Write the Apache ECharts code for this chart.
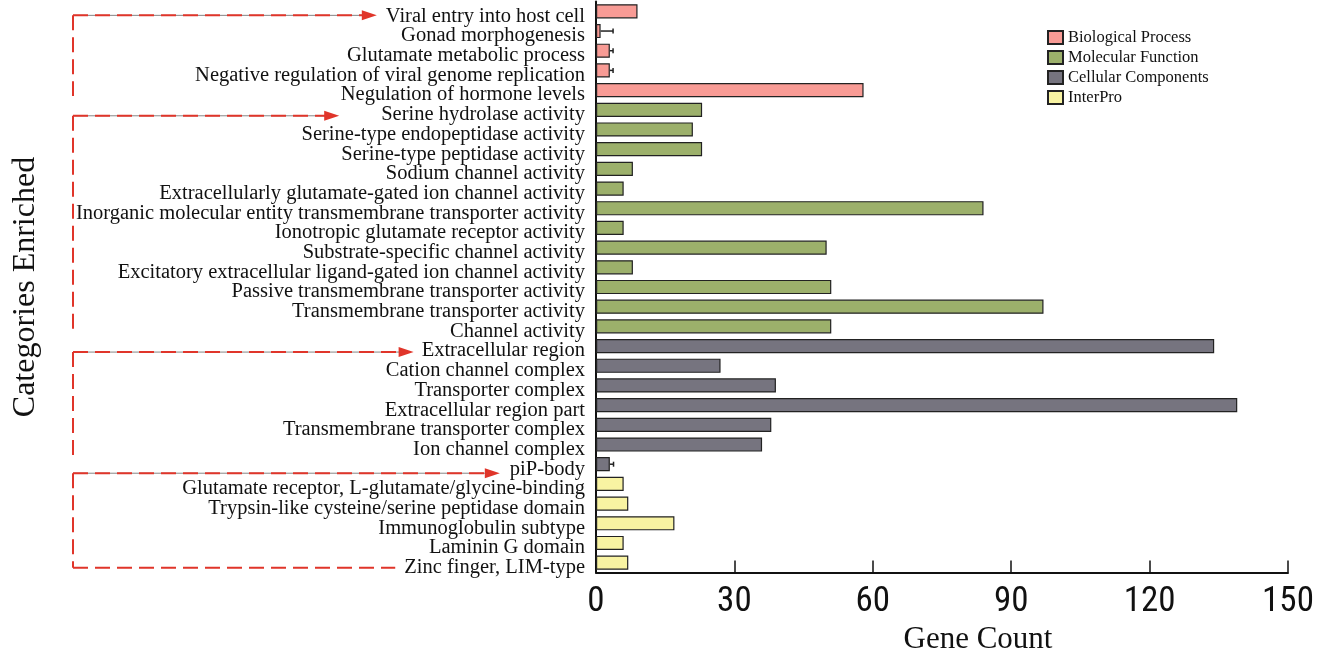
<!DOCTYPE html>
<html>
<head>
<meta charset="utf-8">
<script src="https://cdn.jsdelivr.net/npm/echarts@6/dist/echarts.min.js"></script>
<style>
  html, body { margin: 0; padding: 0; background: #fff; }
  #chart { width: 1332px; height: 654px; }
</style>
</head>
<body>
<div id="chart"></div>
<script>
// categories, top to bottom
const categories = [
  'Viral entry into host cell',
  'Gonad morphogenesis',
  'Glutamate metabolic process',
  'Negative regulation of viral genome replication',
  'Negulation of hormone levels',
  'Serine hydrolase activity',
  'Serine-type endopeptidase activity',
  'Serine-type peptidase activity',
  'Sodium channel activity',
  'Extracellularly glutamate-gated ion channel activity',
  'Inorganic molecular entity transmembrane transporter activity',
  'Ionotropic glutamate receptor activity',
  'Substrate-specific channel activity',
  'Excitatory extracellular ligand-gated ion channel activity',
  'Passive transmembrane transporter activity',
  'Transmembrane transporter activity',
  'Channel activity',
  'Extracellular region',
  'Cation channel complex',
  'Transporter complex',
  'Extracellular region part',
  'Transmembrane transporter complex',
  'Ion channel complex',
  'piP-body',
  'Glutamate receptor, L-glutamate/glycine-binding',
  'Trypsin-like cysteine/serine peptidase domain',
  'Immunoglobulin subtype',
  'Laminin G domain',
  'Zinc finger, LIM-type'
];
const geneCounts = [9, 1, 3, 3, 58, 23, 21, 23, 8, 6, 84, 6, 50, 8, 51, 97, 51,
  134, 27, 39, 139, 38, 36, 3, 6, 7, 17, 6, 7];
const errors = [0, 2.7, 0.7, 0.7, 0, 0, 0, 0, 0, 0, 0, 0, 0, 0, 0, 0, 0,
  0, 0, 0, 0, 0, 0, 0.8, 0, 0, 0, 0, 0];
const groupOf = [0, 0, 0, 0, 0, 1, 1, 1, 1, 1, 1, 1, 1, 1, 1, 1, 1,
  2, 2, 2, 2, 2, 2, 2, 3, 3, 3, 3, 3];
const groupNames = ['Biological Process', 'Molecular Function', 'Cellular Components', 'InterPro'];
const groupColors = ['#F89B95', '#9CB06B', '#76747F', '#F8F3A2'];
const xTicks = [0, 30, 60, 90, 120, 150];
// bracket arrows: first row they point at, last row each bracket spans to
const arrowTo = ['Viral entry into host cell', 'Serine hydrolase activity', 'Extracellular region', 'piP-body'];
const bracketEnd = ['Negulation of hormone levels', 'Channel activity', 'Ion channel complex', 'Zinc finger, LIM-type'];

const labelSize = 20.5;
const labelFont = labelSize + 'px "Liberation Serif", "Times New Roman", serif';
const myChart = echarts.init(document.getElementById('chart'));

let series = groupNames.map((name, g) => ({
  name: name,
  type: 'bar',
  stack: 'all',
  barCategoryGap: '28%',
  itemStyle: { color: groupColors[g], borderColor: '#222', borderWidth: 1.2 },
  data: geneCounts.map((v, i) => groupOf[i] === g ? v : '-')
}));

// small error whiskers
series.push({
  type: 'custom',
  name: 'err',
  silent: true,
  z: 1,
  renderItem: function (params, api) {
    const i = api.value(0);
    const err = errors[i];
    if (!err) return;
    const start = api.coord([geneCounts[i], i]);
    const end = api.coord([geneCounts[i] + err, i]);
    return {
      type: 'group',
      children: [
        { type: 'line', shape: { x1: start[0], y1: start[1], x2: end[0], y2: end[1] }, style: { stroke: '#222', lineWidth: 1.5 } },
        { type: 'line', shape: { x1: end[0], y1: end[1] - 2.5, x2: end[0], y2: end[1] + 2.5 }, style: { stroke: '#222', lineWidth: 1.5 } }
      ]
    };
  },
  encode: { x: 1, y: 0 },
  data: categories.map((c, i) => [i, geneCounts[i]])
});

const option = {
  animation: false,
  grid: { left: 596, right: 44, top: 1.5, bottom: 81.5, containLabel: false, outerBoundsMode: 'none' },
  legend: {
    orient: 'vertical',
    left: 1042,
    top: 24,
    icon: 'rect',
    itemWidth: 15,
    itemHeight: 13,
    itemGap: 3,
    data: groupNames,
    textStyle: { fontFamily: '"Liberation Serif", serif', fontSize: 16.5, color: '#111' }
  },
  xAxis: {
    type: 'value',
    min: 0,
    max: 150,
    interval: 30,
    name: 'Gene Count',
    nameLocation: 'middle',
    nameGap: 50,
    nameTextStyle: { fontFamily: '"Liberation Serif", serif', fontSize: 31, color: '#111', padding: [0, 0, 0, 72] },
    axisLine: { show: true, lineStyle: { color: '#111', width: 2 } },
    axisTick: { show: true, inside: true, length: 12, lineStyle: { color: '#111', width: 1.5 } },
    splitLine: { show: false },
    axisLabel: {
      margin: 12,
      fontFamily: '"Liberation Sans Narrow", "Roboto Condensed", sans-serif',
      fontSize: 35,
      color: '#111',
      formatter: v => xTicks.includes(v) ? String(v) : ''
    }
  },
  yAxis: {
    type: 'category',
    inverse: true,
    data: categories,
    name: 'Categories Enriched',
    nameLocation: 'middle',
    nameGap: 554,
    nameRotate: 90,
    nameTextStyle: { fontFamily: '"Liberation Serif", serif', fontSize: 32, color: '#111' },
    axisLine: { show: true, lineStyle: { color: '#111', width: 2 } },
    axisTick: { show: false },
    axisLabel: {
      interval: 0,
      margin: 11,
      verticalAlign: 'top',
      lineHeight: 10,
      fontFamily: '"Liberation Serif", "Times New Roman", serif',
      fontSize: labelSize,
      color: '#111'
    }
  },
  series: series
};
myChart.setOption(option);

// red dashed brackets on the left, placed from the axis scale and label widths
const ctx = document.createElement('canvas').getContext('2d');
ctx.font = labelFont;
const axisX = myChart.convertToPixel({ xAxisIndex: 0 }, 0);
const xLeft = 73;
const red = '#E0352A';
const dash = [15, 7];
function rowY(name) { return myChart.convertToPixel({ yAxisIndex: 0 }, name); }
function labelLeft(name) { return axisX - 11 - ctx.measureText(name).width; }
const startShift = [4, 6, 6, 9];
const endShift = [6, 9, 13, 5];
const tipGap = [9, 42, 8, 10];

const graphics = [];
arrowTo.forEach((name, k) => {
  const y = rowY(name) + startShift[k];
  const yEnd = rowY(bracketEnd[k]) + endShift[k];
  const tip = labelLeft(name) - tipGap[k];
  graphics.push({ type: 'line', shape: { x1: xLeft, y1: y, x2: tip - 12, y2: y }, style: { stroke: '#666', lineWidth: 0.8 } });
  graphics.push({ type: 'line', shape: { x1: xLeft, y1: y, x2: tip - 12, y2: y }, style: { stroke: red, lineWidth: 2, lineDash: dash } });
  graphics.push({ type: 'polygon', shape: { points: [[tip - 15, y - 5], [tip, y], [tip - 15, y + 5]] }, style: { fill: red } });
  graphics.push({ type: 'line', shape: { x1: xLeft, y1: y, x2: xLeft, y2: yEnd }, style: { stroke: red, lineWidth: 2, lineDash: dash } });
});
// closing line of the last bracket
const lastName = bracketEnd[3];
const yc = rowY(lastName) + endShift[3];
graphics.push({ type: 'line', shape: { x1: xLeft, y1: yc, x2: labelLeft(lastName) - 9, y2: yc }, style: { stroke: red, lineWidth: 2, lineDash: dash } });
myChart.setOption({ graphic: graphics });
</script>
</body>
</html>
